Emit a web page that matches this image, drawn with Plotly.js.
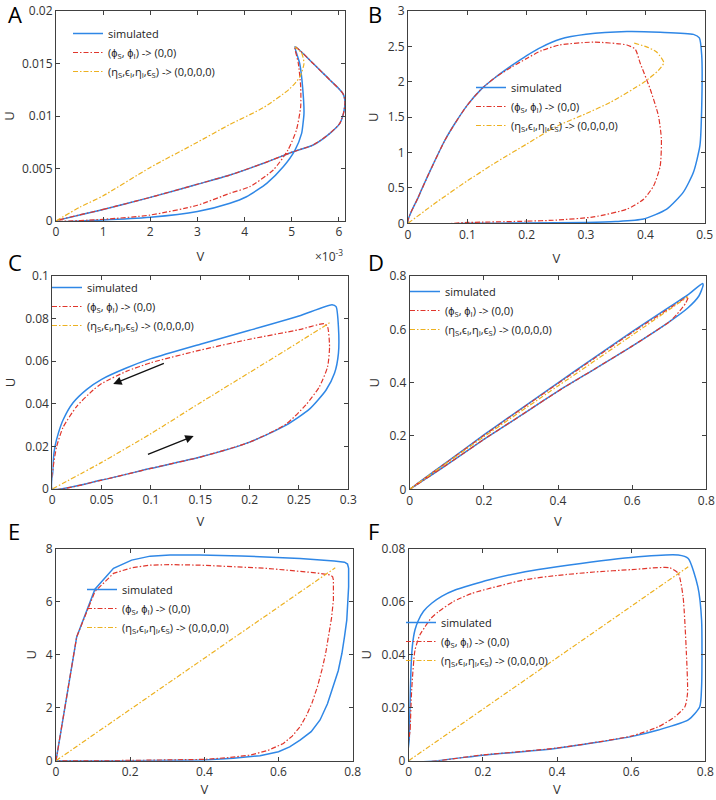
<!DOCTYPE html>
<html>
<head>
<meta charset="utf-8">
<script src="https://cdn.plot.ly/plotly-3.0.1.min.js"></script>
<style>html,body{margin:0;padding:0;background:#fff;}#chart{width:716px;height:800px;}</style>
</head>
<body>
<div id="chart"></div>
<script>
// ---------------- DATA ----------------
// Panel A (V in units of 1e-3)
const aSimV = [0, 1.0, 2.0, 3.0, 3.69, 4.4, 5.03, 5.455, 5.81, 6.02, 6.1, 6.13, 6.09, 6.0, 5.81, 5.455, 5.07, 5.17, 5.23, 5.26, 5.24, 5.21, 5.07, 4.82, 4.47, 4.04, 3.69, 3.0, 2.0, 1.0, 0];
const aSimU = [0, 0.0011, 0.00225, 0.0035, 0.00438, 0.0055, 0.0066, 0.00724, 0.00835, 0.0093, 0.0103, 0.01136, 0.0121, 0.0126, 0.01343, 0.0150, 0.0166, 0.01499, 0.01279, 0.01026, 0.0093, 0.00835, 0.00676, 0.00517, 0.00359, 0.00231, 0.00169, 0.0009, 0.00035, 0.0001, 0];
const aPhiV = [0, 1.0, 2.0, 3.0, 3.69, 4.4, 5.03, 5.455, 5.81, 6.02, 6.1, 6.13, 6.09, 6.0, 5.81, 5.455, 5.07, 5.14, 5.19, 5.19, 5.10, 4.92, 4.61, 4.11, 3.69, 3.0, 2.0, 1.0, 0];
const aPhiU = [0, 0.0011, 0.00225, 0.0035, 0.00438, 0.0055, 0.0066, 0.00724, 0.00835, 0.0093, 0.0103, 0.01136, 0.0121, 0.0126, 0.01343, 0.0150, 0.0166, 0.01502, 0.01279, 0.01089, 0.00867, 0.00676, 0.00486, 0.00327, 0.00264, 0.0015, 0.00057, 0.00016, 0];
const aEtaV = [0, 0.5, 1.0, 2.0, 3.0, 3.69, 4.4, 4.96, 5.17, 5.26, 5.21, 5.10, 5.07];
const aEtaU = [0, 0.0013, 0.0024, 0.0051, 0.0075, 0.0092, 0.0108, 0.0126, 0.0137, 0.0150, 0.0160, 0.01645, 0.0166];

// Panel B
const bSimV = [0, 0.0174, 0.04, 0.062, 0.079, 0.1, 0.124, 0.147, 0.175, 0.2, 0.225, 0.256, 0.3, 0.369, 0.425, 0.481, 0.491, 0.495, 0.495, 0.492, 0.481, 0.464, 0.436, 0.397, 0.35, 0.3, 0.2, 0.1, 0];
const bSimU = [0, 0.37, 0.79, 1.17, 1.41, 1.67, 1.90, 2.06, 2.23, 2.37, 2.49, 2.60, 2.67, 2.71, 2.70, 2.67, 2.62, 2.37, 1.66, 1.10, 0.72, 0.44, 0.20, 0.06, 0.025, 0.012, 0.004, 0.001, 0];
const bPhiV = [0, 0.0174, 0.04, 0.062, 0.079, 0.1, 0.124, 0.147, 0.175, 0.2, 0.225, 0.256, 0.3125, 0.369, 0.383, 0.391, 0.408, 0.422, 0.427, 0.425, 0.414, 0.397, 0.369, 0.3125, 0.25, 0.2, 0.1, 0];
const bPhiU = [0, 0.37, 0.79, 1.17, 1.41, 1.67, 1.90, 2.06, 2.21, 2.33, 2.44, 2.52, 2.56, 2.52, 2.46, 2.27, 1.90, 1.52, 1.19, 0.81, 0.53, 0.34, 0.20, 0.09, 0.045, 0.03, 0.012, 0];
const bEtaV = [0, 0.05, 0.1, 0.15, 0.2, 0.248, 0.3, 0.341, 0.397, 0.422, 0.431, 0.419, 0.403, 0.38];
const bEtaU = [0, 0.31, 0.60, 0.87, 1.12, 1.36, 1.55, 1.71, 1.99, 2.16, 2.27, 2.42, 2.49, 2.55];

// Panel C
const cSimV = [0, 0.0005, 0.001, 0.0027, 0.006, 0.011, 0.021, 0.035, 0.05, 0.075, 0.1, 0.15, 0.2, 0.25, 0.2835, 0.2876, 0.290, 0.290, 0.286, 0.2775, 0.2606, 0.237, 0.2, 0.15, 0.1, 0.05, 0];
const cSimU = [0, 0.008, 0.0136, 0.0199, 0.026, 0.0325, 0.0405, 0.0468, 0.0515, 0.0568, 0.0612, 0.0680, 0.0745, 0.0812, 0.0865, 0.0856, 0.0762, 0.0637, 0.0543, 0.0465, 0.0375, 0.030, 0.022, 0.015, 0.0097, 0.0042, 0];
const cPhiV = [0, 0.001, 0.0044, 0.011, 0.0246, 0.0415, 0.05, 0.075, 0.1, 0.15, 0.2, 0.25, 0.2758, 0.279, 0.281, 0.279, 0.2707, 0.257, 0.237, 0.2, 0.15, 0.1, 0.05, 0];
const cPhiU = [0, 0.0105, 0.0199, 0.029, 0.0387, 0.0465, 0.0495, 0.0552, 0.0593, 0.0652, 0.0703, 0.0748, 0.0776, 0.0762, 0.0668, 0.0574, 0.048, 0.0395, 0.0305, 0.022, 0.015, 0.0097, 0.0042, 0];
const cEtaV = [0, 0.05, 0.1, 0.15, 0.2, 0.25, 0.281];
const cEtaU = [0, 0.0125, 0.026, 0.0405, 0.0547, 0.069, 0.078];

// Panel D
const dSimV = [0, 0.1, 0.2, 0.3, 0.4, 0.5, 0.6, 0.7, 0.75, 0.79, 0.7914, 0.78, 0.75, 0.7, 0.6, 0.5, 0.4, 0.3, 0.2, 0.1, 0];
const dSimU = [0, 0.102, 0.204, 0.302, 0.399, 0.496, 0.591, 0.683, 0.729, 0.772, 0.765, 0.725, 0.68, 0.628, 0.537, 0.452, 0.368, 0.277, 0.187, 0.092, 0];
const dPhiV = [0, 0.1, 0.2, 0.3, 0.4, 0.5, 0.6, 0.7, 0.751, 0.745, 0.72, 0.7, 0.6, 0.5, 0.4, 0.3, 0.2, 0.1, 0];
const dPhiU = [0, 0.101, 0.202, 0.300, 0.397, 0.493, 0.588, 0.678, 0.7225, 0.70, 0.655, 0.628, 0.537, 0.452, 0.368, 0.277, 0.187, 0.092, 0];
const dEtaV = [0, 0.2, 0.4, 0.6, 0.75];
const dEtaU = [0, 0.197, 0.3875, 0.578, 0.722];

// Panel E
const eSimV = [0, 0.0558, 0.105, 0.155, 0.204, 0.254, 0.3075, 0.388, 0.5, 0.658, 0.75, 0.778, 0.786, 0.789, 0.789, 0.787, 0.784, 0.778, 0.771, 0.761, 0.748, 0.732, 0.712, 0.688, 0.658, 0.63, 0.6, 0.55, 0.478, 0.4, 0.2, 0];
const eSimU = [0, 4.68, 6.48, 7.27, 7.58, 7.73, 7.77, 7.77, 7.74, 7.64, 7.55, 7.50, 7.43, 7.27, 6.57, 5.9, 5.31, 4.7, 4.06, 3.4, 2.80, 2.15, 1.54, 1.1, 0.78, 0.52, 0.34, 0.19, 0.09, 0.025, 0.0, 0];
const ePhiV = [0, 0.0558, 0.105, 0.155, 0.204, 0.254, 0.3075, 0.388, 0.568, 0.7, 0.739, 0.746, 0.748, 0.748, 0.743, 0.735, 0.727, 0.717, 0.705, 0.69, 0.675, 0.658, 0.637, 0.613, 0.57, 0.523, 0.46, 0.4, 0.2, 0];
const ePhiU = [0, 4.68, 6.39, 7.08, 7.29, 7.39, 7.41, 7.39, 7.27, 7.1, 7.02, 6.95, 6.83, 6.07, 5.4, 4.69, 4.05, 3.43, 2.8, 2.17, 1.7, 1.28, 0.93, 0.65, 0.38, 0.21, 0.11, 0.05, 0.01, 0];
const eEtaV = [0, 0.2, 0.4, 0.6, 0.753];
const eEtaU = [0, 1.93, 3.87, 5.8, 7.29];

// Panel F
const fSimV = [0, 0.0015, 0.0035, 0.006, 0.01, 0.017, 0.026, 0.04, 0.062, 0.09, 0.125, 0.17, 0.215, 0.314, 0.4, 0.6, 0.727, 0.754, 0.78, 0.79, 0.79, 0.785, 0.754, 0.673, 0.6, 0.4, 0.2, 0];
const fSimU = [0, 0.008, 0.0204, 0.034, 0.0435, 0.0495, 0.053, 0.0565, 0.0595, 0.0622, 0.0645, 0.0665, 0.0683, 0.0714, 0.0733, 0.0768, 0.0777, 0.0764, 0.0657, 0.0531, 0.028, 0.0204, 0.0154, 0.0116, 0.0091, 0.0047, 0.0021, 0];
const fPhiV = [0, 0.004, 0.008, 0.017, 0.03, 0.044, 0.06, 0.08, 0.12, 0.17, 0.314, 0.4, 0.5, 0.6, 0.704, 0.727, 0.74, 0.749, 0.752, 0.745, 0.718, 0.673, 0.6, 0.4, 0.2, 0];
const fPhiU = [0, 0.012, 0.0267, 0.0418, 0.0475, 0.0506, 0.0538, 0.0563, 0.0601, 0.0632, 0.0684, 0.0700, 0.0713, 0.0722, 0.0729, 0.0708, 0.062, 0.0406, 0.0254, 0.0204, 0.0166, 0.0128, 0.0093, 0.0048, 0.0022, 0];
const fEtaV = [0, 0.754];
const fEtaU = [0, 0.0733];

// Labels
const seriesNames = ['simulated', '(ϕ<sub>S</sub>, ϕ<sub>I</sub>) -&gt; (0,0)', '(η<sub>S</sub>,ϵ<sub>I</sub>,η<sub>I</sub>,ϵ<sub>S</sub>) -&gt; (0,0,0,0)'];
const panelLetters = ['A', 'B', 'C', 'D', 'E', 'F'];

// ---------------- STYLE / LAYOUT ----------------
const W = 716, H = 800;
const FONT = 'Open Sans, Liberation Sans, sans-serif';
const COLORS = ['#2F87E6', '#E0362C', '#EDB120'];
const px = x => x / W, py = y => 1 - y / H;

const panels = [
  {sv: aSimV, su: aSimU, pv: aPhiV, pu: aPhiU, ev: aEtaV, eu: aEtaU, box: [56, 345, 11, 221], xr: [0, 6.13], yr: [0, 0.02], xd: 1, yd: 0.005, leg: [68, 19], shape: 'spline', so: 12},
  {sv: bSimV, su: bSimU, pv: bPhiV, pu: bPhiU, ev: bEtaV, eu: bEtaU, box: [408, 704.7, 11, 223.3], xr: [0, 0.5], yr: [0, 3], xd: 0.1, yd: 0.5, leg: [471, 73], shape: 'spline', so: 12},
  {sv: cSimV, su: cSimU, pv: cPhiV, pu: cPhiU, ev: cEtaV, eu: cEtaU, box: [52.3, 348.3, 276, 489], xr: [0, 0.3], yr: [0, 0.1], xd: 0.05, yd: 0.02, leg: [47, 273], shape: 'spline', so: 9},
  {sv: dSimV, su: dSimU, pv: dPhiV, pu: dPhiU, ev: dEtaV, eu: dEtaU, box: [409.7, 706.3, 276, 489.3], xr: [0, 0.8], yr: [0, 0.8], xd: 0.2, yd: 0.2, leg: [405, 277], shape: 'spline', so: 9},
  {sv: eSimV, su: eSimU, pv: ePhiV, pu: ePhiU, ev: eEtaV, eu: eEtaU, box: [56, 352.7, 549, 760.7], xr: [0, 0.8], yr: [0, 8], xd: 0.2, yd: 2, leg: [82, 575], shape: 'linear', so: 0},
  {sv: fSimV, su: fSimU, pv: fPhiV, pu: fPhiU, ev: fEtaV, eu: fEtaU, box: [408.7, 705.3, 549, 760.7], xr: [0, 0.8], yr: [0, 0.08], xd: 0.2, yd: 0.02, leg: [401, 608], shape: 'spline', so: 0}
];
const letterPos = [[6, 14.5], [366, 14.5], [6, 262], [366, 262], [6, 531], [366, 531]];

const traces = [];
const layout = {
  width: W, height: H,
  margin: {l: 0, r: 0, t: 0, b: 0},
  paper_bgcolor: '#fff', plot_bgcolor: '#fff',
  font: {family: FONT, size: 12, color: '#333'},
  hovermode: false,
  annotations: []
};

panels.forEach((p, i) => {
  const n = i + 1;
  const xa = n === 1 ? 'xaxis' : 'xaxis' + n;
  const ya = n === 1 ? 'yaxis' : 'yaxis' + n;
  const xr = n === 1 ? 'x' : 'x' + n;
  const yr = n === 1 ? 'y' : 'y' + n;
  const lg = n === 1 ? 'legend' : 'legend' + n;
  const dashes = ['solid', '5px,2px,1.5px,2px', '5px,2px,1.5px,2px'];
  const data = [[p.sv, p.su], [p.pv, p.pu], [p.ev, p.eu]];
  data.forEach((d, k) => {
    traces.push({
      type: 'scatter', mode: 'lines', x: d[0], y: d[1],
      xaxis: xr, yaxis: yr, name: seriesNames[k], legend: lg,
      line: {color: COLORS[k], width: k === 0 ? 1.5 : 1.2, dash: dashes[k], shape: p.shape, smoothing: 0.6}
    });
  });
  const axCommon = {
    showline: true, mirror: 'ticks', ticks: 'inside', ticklen: 4, tickcolor: '#404040',
    linecolor: '#404040', linewidth: 1, zeroline: false, showgrid: false,
    tickfont: {family: FONT, size: 12, color: '#333'}, fixedrange: true
  };
  layout[xa] = Object.assign({}, axCommon, {
    domain: [px(p.box[0]), px(p.box[1])], range: p.xr, dtick: p.xd, tick0: 0,
    anchor: yr,
    title: {text: 'V', font: {family: FONT, size: 13, color: '#333'}, standoff: p.so}
  });
  layout[ya] = Object.assign({}, axCommon, {
    domain: [py(p.box[3]), py(p.box[2])], range: p.yr, dtick: p.yd, tick0: 0,
    anchor: xr,
    title: {text: 'U', font: {family: FONT, size: 13, color: '#333'}, standoff: 6}
  });
  layout[lg] = {
    x: px(p.leg[0]), y: py(p.leg[1]), xanchor: 'left', yanchor: 'top',
    xref: 'paper', yref: 'paper',
    bgcolor: 'rgba(0,0,0,0)', borderwidth: 0,
    font: {family: FONT, size: 11, color: '#222'}, tracegroupgap: 0
  };
  layout.annotations.push({
    text: panelLetters[i], xref: 'paper', yref: 'paper',
    x: px(letterPos[i][0]), y: py(letterPos[i][1]), xanchor: 'left', yanchor: 'middle',
    showarrow: false, font: {family: FONT, size: 22, color: '#000'}
  });
});

// x10^-3 multiplier for panel A
layout.annotations.push({
  text: '×10<sup>-3</sup>', xref: 'paper', yref: 'paper', x: px(345), y: py(256),
  xanchor: 'right', yanchor: 'middle', showarrow: false, font: {family: FONT, size: 12, color: '#333'}
});

// Direction arrows in panel C
const cArrowTail = [[0.1146, 0.0593], [0.0954, 0.0160]];
const cArrowHead = [[0.0617, 0.0493], [0.1433, 0.0249]];
cArrowHead.forEach((h, j) => {
  layout.annotations.push({
    xref: 'x3', yref: 'y3', axref: 'x3', ayref: 'y3',
    x: h[0], y: h[1], ax: cArrowTail[j][0], ay: cArrowTail[j][1],
    text: '', showarrow: true, arrowhead: 2, arrowsize: 1.3, arrowwidth: 1.3, arrowcolor: '#111'
  });
});

Plotly.newPlot('chart', traces, layout, {staticPlot: true, displayModeBar: false});
</script>
</body>
</html>
